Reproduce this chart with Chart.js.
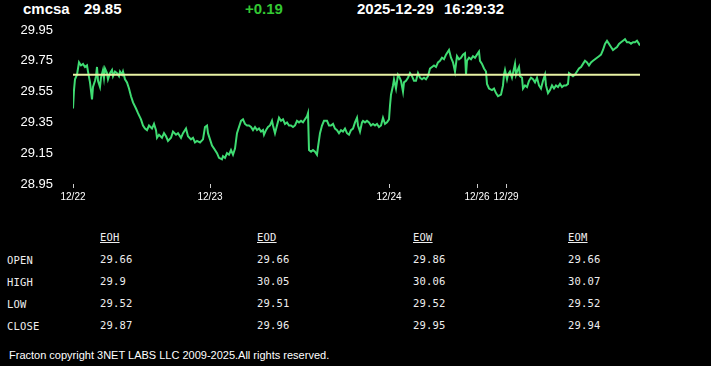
<!DOCTYPE html>
<html>
<head>
<meta charset="utf-8">
<script src="https://cdn.jsdelivr.net/npm/chart.js@4/dist/chart.umd.min.js"></script>
<style>
  body { margin: 0; background: #000; width: 711px; height: 366px; overflow: hidden; position: relative; font-family: "Liberation Sans", Arial, sans-serif; color: #fff; }
  .hdr { position: absolute; top: 0; font-size: 15px; font-weight: bold; line-height: 18px; white-space: nowrap; }
  #chartWrap { position: absolute; left: 0; top: 0; width: 711px; height: 214px; }
  .cell { position: absolute; font-family: "DejaVu Sans Mono", monospace; font-size: 10.5px; letter-spacing: 0.2px; color: #eee; white-space: nowrap; line-height: 12px; }
  .colhead { text-decoration: underline; }
  #footer { position: absolute; left: 9px; top: 348px; font-size: 11px; line-height: 14px; white-space: nowrap; }
</style>
</head>
<body>
<div class="hdr" style="left:23px">cmcsa</div>
<div class="hdr" style="left:84px">29.85</div>
<div class="hdr" style="left:245px;color:#33c833">+0.19</div>
<div class="hdr" style="left:357px">2025-12-29</div>
<div class="hdr" style="left:444px">16:29:32</div>

<div id="chartWrap"><canvas id="priceChart" width="711" height="214"></canvas></div>
<div id="table"></div>
<div id="footer">Fracton copyright 3NET LABS LLC 2009-2025.All rights reserved.</div>

<script>
// intraday slots (one per sampled minute bucket) and prices
const slots = [0,1,2,4,6,8,10,12,14,15,17,19,20,22,23,24,25,27,28,30,31,32,34,35,37,39,40,42,44,46,47,49,50,52,54,56,58,60,63,65,68,70,72,74,76,79,81,83,84,86,89,91,93,95,98,100,103,105,108,110,113,115,118,120,122,124,127,130,132,134,135,137,
  139,141,144,146,149,150,152,154,156,158,160,162,164,166,168,170,172,174,176,178,180,182,184,186,188,190,191,193,195,197,199,200,202,204,206,208,210,212,214,216,218,220,222,224,226,228,230,232,234,235,
  236,238,240,242,244,245,247,249,251,254,256,258,260,262,264,266,268,270,272,274,276,278,280,282,284,285,287,289,290,292,294,296,298,300,302,304,306,308,310,312,314,316,
  317,318,320,321,323,325,326,328,330,331,333,335,337,339,341,343,345,347,349,351,353,355,357,359,361,363,365,367,369,371,373,375,376,378,380,382,384,386,388,390,392,393,394,396,398,400,402,404,
  406,407,409,411,413,414,416,419,421,423,425,428,430,431,432,434,435,437,439,440,442,443,444,446,447,449,450,452,454,456,458,460,462,464,466,468,470,472,473,475,477,479,481,483,485,487,489,491,493,495,
  496,498,500,502,504,506,508,510,512,514,516,518,520,522,524,526,528,530,532,534,536,538,540,542,544,546,548,550,552,554,556,558,560,562,564,566,567];
const prices = [29.44,29.56,29.63,29.66,29.74,29.72,29.73,29.71,29.72,29.68,29.61,29.50,29.58,29.62,29.65,29.71,29.62,29.58,29.64,29.69,29.64,29.70,29.67,29.63,29.67,29.69,29.65,29.68,29.67,29.65,29.68,29.66,29.68,29.63,29.61,29.57,29.52,29.48,29.44,29.41,29.37,29.33,29.31,29.30,29.33,29.31,29.34,29.30,29.25,29.27,29.25,29.28,29.26,29.23,29.25,29.29,29.27,29.28,29.25,29.28,29.31,29.26,29.24,29.25,29.22,29.23,29.22,29.24,29.32,29.33,29.28,29.24,
  29.20,29.18,29.15,29.12,29.11,29.13,29.12,29.15,29.14,29.17,29.14,29.18,29.28,29.32,29.36,29.37,29.34,29.33,29.33,29.32,29.30,29.32,29.30,29.31,29.29,29.30,29.27,29.30,29.32,29.33,29.36,29.33,29.28,29.33,29.38,29.36,29.37,29.34,29.35,29.33,29.33,29.32,29.33,29.36,29.35,29.36,29.35,29.37,29.39,29.41,
  29.17,29.16,29.17,29.16,29.14,29.19,29.28,29.33,29.36,29.36,29.33,29.33,29.34,29.31,29.30,29.28,29.30,29.29,29.31,29.28,29.27,29.30,29.31,29.35,29.38,29.33,29.29,29.35,29.36,29.35,29.36,29.35,29.33,29.34,29.33,29.34,29.32,29.33,29.38,29.34,29.35,29.37,
  29.46,29.53,29.59,29.63,29.57,29.66,29.65,29.62,29.55,29.61,29.62,29.64,29.67,29.65,29.62,29.62,29.67,29.64,29.63,29.64,29.63,29.65,29.70,29.71,29.72,29.71,29.74,29.75,29.77,29.76,29.79,29.81,29.82,29.77,29.74,29.68,29.78,29.76,29.77,29.79,29.80,29.66,29.75,29.77,29.76,29.78,29.77,29.79,
  29.81,29.75,29.73,29.70,29.68,29.60,29.57,29.56,29.57,29.54,29.52,29.53,29.59,29.66,29.69,29.63,29.66,29.68,29.64,29.67,29.73,29.66,29.68,29.71,29.65,29.64,29.57,29.59,29.58,29.62,29.64,29.63,29.61,29.64,29.59,29.57,29.62,29.66,29.59,29.54,29.56,29.59,29.57,29.59,29.58,29.60,29.58,29.59,29.59,29.60,
  29.67,29.66,29.65,29.66,29.68,29.70,29.71,29.73,29.75,29.74,29.72,29.74,29.75,29.76,29.77,29.78,29.79,29.82,29.86,29.88,29.86,29.84,29.82,29.83,29.84,29.86,29.87,29.88,29.89,29.87,29.87,29.86,29.87,29.87,29.88,29.86,29.85];

const prevClose = 29.66;
const yTicks = [28.95, 29.15, 29.35, 29.55, 29.75, 29.95];
const dateSlots = [0, 137, 316, 404, 433];
const dateLabels = ["12/22", "12/23", "12/24", "12/26", "12/29"];

// summary table
const rowNames = ["OPEN", "HIGH", "LOW", "CLOSE"];
const colNames = ["EOH", "EOD", "EOW", "EOM"];
const eoh = ["29.66", "29.9", "29.52", "29.87"];
const eod = ["29.66", "30.05", "29.51", "29.96"];
const eow = ["29.86", "30.06", "29.52", "29.95"];
const eom = ["29.66", "30.07", "29.52", "29.94"];

const lastSlot = slots[slots.length - 1];

new Chart(document.getElementById("priceChart"), {
  type: "line",
  data: {
    datasets: [
      {
        label: "prev",
        data: [{ x: 0, y: prevClose }, { x: lastSlot, y: prevClose }],
        borderColor: "#e9f2a4",
        borderWidth: 2,
        pointRadius: 0,
        order: 0,
      },
      {
        label: "cmcsa",
        data: slots.map((s, i) => ({ x: s, y: prices[i] })),
        borderColor: "#3fdc72",
        borderWidth: 2,
        pointRadius: 0,
        tension: 0,
        order: 1,
      },
    ],
  },
  options: {
    responsive: false,
    animation: false,
    events: [],
    layout: { padding: { top: 30, right: 71, left: 0, bottom: 0 } },
    plugins: { legend: { display: false }, tooltip: { enabled: false } },
    scales: {
      x: {
        type: "linear",
        min: 0,
        max: lastSlot,
        afterFit: (s) => { s.height = 30; },
        afterBuildTicks: (s) => { s.ticks = dateSlots.map((v) => ({ value: v })); },
        border: { display: false },
        grid: { drawOnChartArea: false, drawTicks: true, tickLength: 4, color: "#cccccc" },
        ticks: {
          color: "#ffffff",
          font: { family: "Liberation Sans", size: 10 },
          padding: 3,
          maxRotation: 0,
          autoSkip: false,
          callback: (v) => dateLabels[dateSlots.indexOf(v)],
        },
      },
      y: {
        min: 28.95,
        max: 29.95,
        afterFit: (s) => { s.width = 73; },
        afterBuildTicks: (s) => { s.ticks = yTicks.map((v) => ({ value: v })); },
        border: { display: false },
        grid: { display: false },
        ticks: {
          color: "#ffffff",
          font: { family: "Liberation Sans", size: 13 },
          padding: 12,
          callback: (v) => v.toFixed(2),
        },
      },
    },
  },
});

// build table
const table = document.getElementById("table");
const colX = [100, 257, 413, 568];
const rowY = [253, 275, 297, 319];
const cols = [eoh, eod, eow, eom];
function addCell(text, x, y, cls) {
  const d = document.createElement("div");
  d.className = "cell" + (cls ? " " + cls : "");
  d.style.left = x + "px";
  d.style.top = y + "px";
  d.textContent = text;
  table.appendChild(d);
}
colNames.forEach((c, i) => addCell(c, colX[i], 231, "colhead"));
rowNames.forEach((r, j) => {
  addCell(r, 7, rowY[j] + 1);
  cols.forEach((col, i) => addCell(col[j], colX[i], rowY[j]));
});
</script>
</body>
</html>
